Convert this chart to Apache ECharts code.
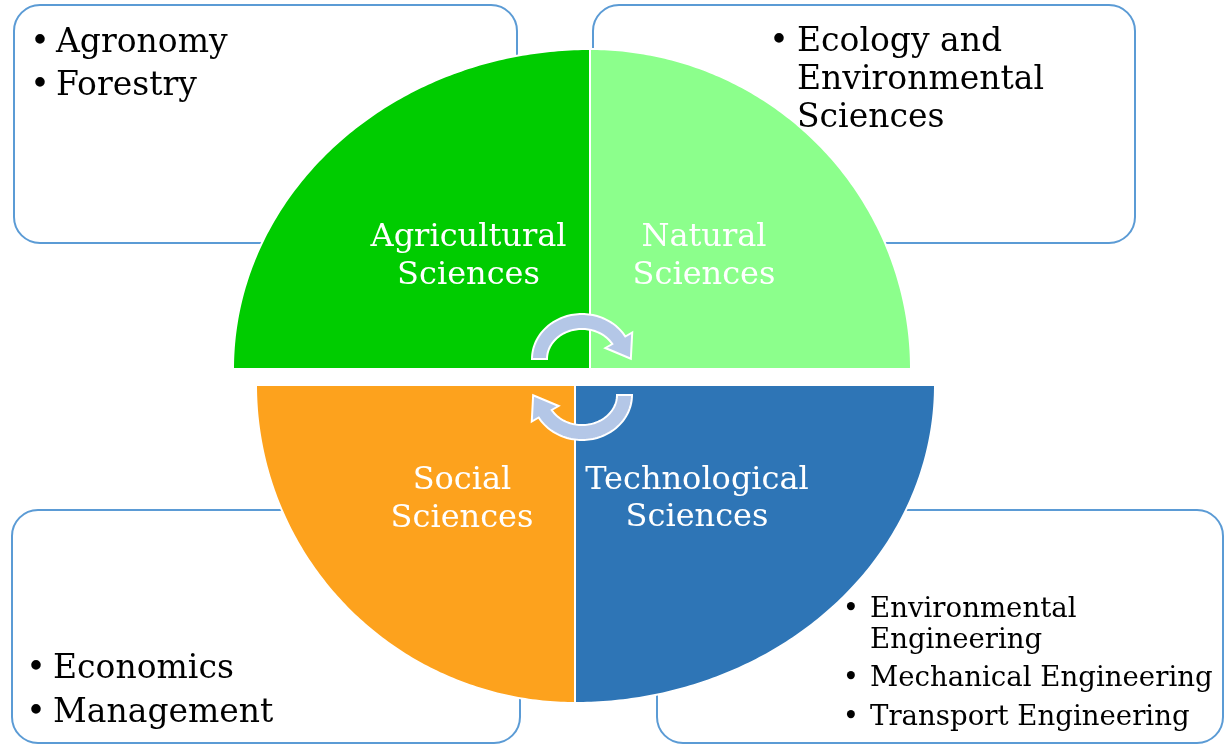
<!DOCTYPE html>
<html><head><meta charset="utf-8">
<script src="https://cdn.jsdelivr.net/npm/echarts@6/dist/echarts.min.js"></script>
<style>html,body{margin:0;padding:0;background:#fff}#main{width:1226px;height:745px}</style>
</head><body><div id="main"></div>
<script>
// ---------------- data ----------------
const quadrantNames = ['Agricultural Sciences', 'Natural Sciences', 'Social Sciences', 'Technological Sciences'];
const quadrantLabelLines = [['Agricultural', 'Sciences'], ['Natural', 'Sciences'], ['Social', 'Sciences'], ['Technological', 'Sciences']];
const agriculturalItems = [['Agronomy'], ['Forestry']];
const naturalItems = [['Ecology and', 'Environmental', 'Sciences']];
const socialItems = [['Economics'], ['Management']];
const technologicalItems = [['Environmental', 'Engineering'], ['Mechanical Engineering'], ['Transport Engineering']];
const quadrantItems = [agriculturalItems, naturalItems, socialItems, technologicalItems];
const cycleArrows = ['top', 'bottom'];

// ---------------- styles / layout ----------------
const FONT = '"DejaVu Serif", serif';
const COLORS = ['#00cc00', '#8cff8c', '#fda21d', '#2e75b6'];
const BOX_STROKE = '#5b9bd5';
const ARROW_FILL = '#b4c7e7';
const LAYOUT = [
  { cx: 590, cy: 369, rx: 357, ry: 320, a0: 90, a1: 180, labelX: 468.5, labelY: 237.5, labelGap: 37.7,
    box: [14, 5, 503, 238], bulletX: 40, textX: 56, size: 33, firstY: 43.3, lineGap: 38, paraGap: 43.3 },
  { cx: 590, cy: 369, rx: 321, ry: 320, a0: 0, a1: 90, labelX: 704, labelY: 237.5, labelGap: 37.7,
    box: [593, 5, 542, 238], bulletX: 779, textX: 797, size: 33, firstY: 42, lineGap: 38.3, paraGap: 43.3 },
  { cx: 575, cy: 385, rx: 319, ry: 318, a0: 180, a1: 270, labelX: 462, labelY: 480.5, labelGap: 38,
    box: [12, 510, 508, 233], bulletX: 36, textX: 53, size: 33, firstY: 669.8, lineGap: 38, paraGap: 43.4 },
  { cx: 575, cy: 385, rx: 360, ry: 318, a0: 270, a1: 360, labelX: 697, labelY: 480.5, labelGap: 37,
    box: [657, 510, 566, 233], bulletX: 851, textX: 870, size: 27.6, firstY: 609.5, lineGap: 31.6, paraGap: 38.2 }
];
const ARROW = { cx: 582, cy: 359, rxO: 50, ryO: 45, rxI: 35, ryI: 30, start: 180, end: 30, wing: 8, head: 22, pivotX: 582, pivotY: 377 };
const LABEL_SIZE = 32;

function quadPoints(api, q) {
  const pts = [api.coord([q.cx, q.cy])];
  const N = 140;
  for (let k = 0; k <= N; k++) {
    const t = (q.a0 + (q.a1 - q.a0) * k / N) * Math.PI / 180;
    pts.push(api.coord([q.cx + q.rx * Math.cos(t), q.cy - q.ry * Math.sin(t)]));
  }
  return pts;
}

function arrowPoints(api, idx) {
  const A = ARROW, pts = [], N = 60;
  const pt = (t, rx, ry) => [A.cx + rx * Math.cos(t), A.cy - ry * Math.sin(t)];
  const t0 = A.start * Math.PI / 180, t1 = A.end * Math.PI / 180;
  for (let k = 0; k <= N; k++) pts.push(pt(t0 + (t1 - t0) * k / N, A.rxO, A.ryO));
  pts.push(pt(t1, A.rxO + A.wing, A.ryO + A.wing));
  const rxm = (A.rxO + A.rxI) / 2, rym = (A.ryO + A.ryI) / 2;
  const m = pt(t1, rxm, rym);
  let tx = rxm * Math.sin(t1), ty = rym * Math.cos(t1);
  const n = Math.hypot(tx, ty); tx /= n; ty /= n;
  pts.push([m[0] + tx * A.head, m[1] + ty * A.head]);
  pts.push(pt(t1, A.rxI - A.wing, A.ryI - A.wing));
  for (let k = N; k >= 0; k--) pts.push(pt(t0 + (t1 - t0) * k / N, A.rxI, A.ryI));
  return pts.map(p => idx === 1 ? [2 * A.pivotX - p[0], 2 * A.pivotY - p[1]] : p).map(p => api.coord(p));
}

const quadData = quadrantNames.map((n, i) => ({ name: n, value: [i, 0] }));

const option = {
  animation: false,
  grid: { left: 0, right: 0, top: 0, bottom: 0 },
  xAxis: { type: 'value', min: 0, max: 1226, show: false },
  yAxis: { type: 'value', min: 0, max: 745, inverse: true, show: false },
  series: [
    { // boxes
      type: 'custom', z: 1, data: quadData,
      renderItem: (params, api) => {
        const q = LAYOUT[params.dataIndex];
        const p = api.coord([q.box[0], q.box[1]]);
        const s = api.size([q.box[2], q.box[3]]);
        return { type: 'rect', shape: { x: p[0], y: p[1], width: s[0], height: s[1], r: 26 },
          style: { fill: '#fff', stroke: BOX_STROKE, lineWidth: 2 } };
      }
    },
    { // quadrants
      type: 'custom', z: 2, data: quadData,
      renderItem: (params, api) => {
        const q = LAYOUT[params.dataIndex];
        return { type: 'polygon', shape: { points: quadPoints(api, q) },
          style: { fill: COLORS[params.dataIndex], stroke: '#fff', lineWidth: 2 } };
      }
    },
    { // item texts
      type: 'custom', z: 3, data: quadData,
      renderItem: (params, api) => {
        const i = params.dataIndex, q = LAYOUT[i];
        const font = q.size + 'px ' + FONT;
        const children = [];
        let y = q.firstY;
        quadrantItems[i].forEach((lines) => {
          const b = api.coord([q.bulletX, y]);
          children.push({ type: 'text', style: { text: '\u2022', x: b[0], y: b[1], fill: '#000', font, align: 'center', verticalAlign: 'middle' } });
          lines.forEach((ln, k) => {
            const p = api.coord([q.textX, y]);
            children.push({ type: 'text', style: { text: ln, x: p[0], y: p[1], fill: '#000', font, align: 'left', verticalAlign: 'middle' } });
            if (k < lines.length - 1) y += q.lineGap;
          });
          y += q.paraGap;
        });
        return { type: 'group', children };
      }
    },
    { // cycle arrows
      type: 'custom', z: 4, data: cycleArrows.map((a, i) => ({ name: a, value: [i, 0] })),
      renderItem: (params, api) => ({ type: 'polygon', shape: { points: arrowPoints(api, params.dataIndex) },
        style: { fill: ARROW_FILL, stroke: '#fff', lineWidth: 2 } })
    },
    { // quadrant labels
      type: 'custom', z: 5, data: quadData,
      renderItem: (params, api) => {
        const i = params.dataIndex, q = LAYOUT[i];
        return { type: 'group', children: quadrantLabelLines[i].map((ln, k) => {
          const p = api.coord([q.labelX, q.labelY + k * q.labelGap]);
          return { type: 'text', style: { text: ln, x: p[0], y: p[1], fill: '#fff', font: LABEL_SIZE + 'px ' + FONT, align: 'center', verticalAlign: 'middle' } };
        }) };
      }
    }
  ]
};
const chart = echarts.init(document.getElementById('main'), null, { renderer: 'canvas' });
chart.setOption(option);
</script></body></html>
